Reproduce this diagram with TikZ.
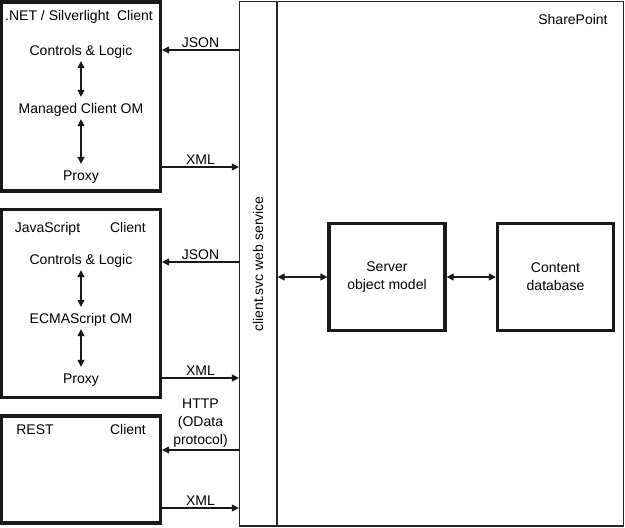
\documentclass[tikz,border=0pt]{standalone}
\usepackage{fontspec}
\setmainfont{Liberation Sans}
\usepackage{tikz}
\usetikzlibrary{arrows.meta}
\tikzset{spdiagram/.style={
    x=1pt, y=-1pt,
    font=\fontsize{14}{18}\selectfont,
    clientbox/.style={rectangle, draw=black!90, line width=3.2pt, minimum width=159pt},
    frame/.style={rectangle, draw=black!85, line width=1.2pt, minimum height=524.5pt},
    serverbox/.style={rectangle, draw=black!90, line width=3.2pt, minimum width=116pt, minimum height=107pt, align=center},
    item/.style={align=center, text height=10pt, text depth=0pt, inner sep=6pt},
    head/.style={inner sep=2pt, text height=10pt, text depth=0pt},
    link/.style={line width=1.2pt, draw=black!90, -{Triangle[length=7pt,width=7pt]}},
    twoway/.style={line width=1.2pt, draw=black!90, {Triangle[length=7pt,width=7pt]}-{Triangle[length=7pt,width=7pt]}},
    tag/.style={midway, above, inner sep=2pt, align=center},
}}

\begin{document}
\begin{tikzpicture}[spdiagram]
    \useasboundingbox (0,0) rectangle (625,528);

    % SharePoint side
    \node[frame, minimum width=384pt] (sp) at (431.5,263.75) {};
    \node[frame, minimum width=37.5pt] (ws) at (258.25,263.75) {};
    \node[rotate=90] (wslabel) at (258,264) {client.svc web service};
    \node (splabel) at (573,19) {SharePoint};
    \node[serverbox] (som) at (387,277) {Server\\object model};
    \node[serverbox] (cdb) at (555.5,277) {Content\\database};
    \draw[twoway] (ws.east |- som) -- (som.west);
    \draw[twoway] (som.east) -- (cdb.west);

    % .NET client
    \node[clientbox, minimum height=189pt] (net) at (81,96.5) {};
    \node[head, anchor=west] (netname) at (3,15) {.NET / Silverlight};
    \node[head] (netclient) at (135,15) {Client};
    \node[item] (ctl1) at (81,50) {Controls \& Logic};
    \node[item] (mom1) at (81,108) {Managed Client OM};
    \node[item] (prx1) at (81,175) {Proxy};
    \draw[twoway] (ctl1) -- (mom1);
    \draw[twoway] (mom1) -- (prx1);

    % JavaScript client
    \node[clientbox, minimum height=188pt] (js) at (81,303.5) {};
    \node[head] (jsname) at (47.5,227) {JavaScript};
    \node[head] (jsclient) at (128,227) {Client};
    \node[item] (ctl2) at (81,259) {Controls \& Logic};
    \node[item] (ecm2) at (81,318) {ECMAScript OM};
    \node[item] (prx2) at (81,378) {Proxy};
    \draw[twoway] (ctl2) -- (ecm2);
    \draw[twoway] (ecm2) -- (prx2);

    % REST client
    \node[clientbox, minimum height=107pt] (rest) at (81,469.5) {};
    \node[head] (restname) at (35,429) {REST};
    \node[head] (restclient) at (128,429) {Client};

    % traffic
    \coordinate (y1) at (0,50);
    \coordinate (y2) at (0,167);
    \coordinate (y3) at (0,262);
    \coordinate (y4) at (0,378);
    \coordinate (y5) at (0,450);
    \coordinate (y6) at (0,508);
    \draw[link] (ws.west |- y1) -- node[tag] {JSON} (net.east |- y1);
    \draw[link] (net.east |- y2) -- node[tag] {XML} (ws.west |- y2);
    \draw[link] (ws.west |- y3) -- node[tag] {JSON} (js.east |- y3);
    \draw[link] (js.east |- y4) -- node[tag] {XML} (ws.west |- y4);
    \draw[link] (ws.west |- y5) -- node[tag] {HTTP\\(OData\\protocol)} (rest.east |- y5);
    \draw[link] (rest.east |- y6) -- node[tag] {XML} (ws.west |- y6);
\end{tikzpicture}
\end{document}
